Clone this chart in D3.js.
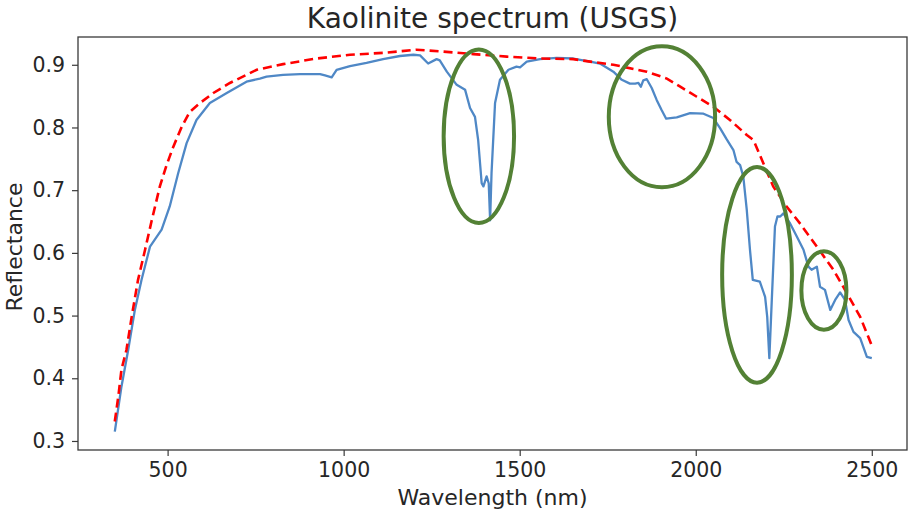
<!DOCTYPE html>
<html>
<head>
<meta charset="utf-8">
<script src="https://cdn.jsdelivr.net/npm/d3@7"></script>
<style>
  html, body { margin: 0; padding: 0; background: #fff; }
  svg { display: block; font-family: "DejaVu Sans", sans-serif; }
</style>
</head>
<body>
<svg id="chart" width="909" height="511"></svg>
<script>
// ---- data ----
const blueWavelength = [350,369,388,407,426,450,483,506,530,554,582,620,668,724,762,781,828,876,933,947,966,980,1018,1065,1112,1160,1198,1217,1240,1264,1273,1293,1321,1345,1359,1373,1382,1392,1397,1406,1412,1416,1420,1430,1444,1468,1491,1501,1520,1558,1605,1652,1700,1728,1766,1790,1813,1828,1837,1844,1851,1861,1875,1889,1903,1916,1946,1984,2022,2050,2069,2088,2107,2116,2126,2135,2145,2154,2162,2182,2197,2203,2209,2216,2225,2232,2240,2249,2268,2287,2306,2320,2329,2344,2353,2367,2382,2396,2410,2424,2434,2448,2467,2486,2500];
const blueReflectance = [0.315,0.387,0.445,0.509,0.557,0.610,0.637,0.674,0.727,0.775,0.812,0.839,0.855,0.873,0.878,0.881,0.884,0.885,0.885,0.883,0.880,0.892,0.898,0.903,0.909,0.914,0.916,0.915,0.902,0.909,0.907,0.889,0.868,0.860,0.831,0.817,0.780,0.711,0.706,0.722,0.711,0.652,0.727,0.839,0.876,0.892,0.897,0.896,0.905,0.909,0.911,0.910,0.905,0.902,0.889,0.876,0.870,0.870,0.871,0.865,0.875,0.877,0.863,0.844,0.828,0.814,0.816,0.823,0.822,0.815,0.799,0.781,0.764,0.745,0.740,0.722,0.668,0.605,0.557,0.554,0.530,0.498,0.432,0.525,0.642,0.658,0.658,0.663,0.647,0.626,0.605,0.578,0.573,0.578,0.546,0.541,0.509,0.525,0.537,0.525,0.493,0.474,0.464,0.434,0.432];

const hullWavelength = [350,360,369,383,398,416,436,455,478,497,516,540,563,592,630,677,724,753,828,923,1018,1112,1207,1283,1369,1463,1558,1652,1700,1766,1861,1918,1956,2003,2050,2097,2145,2164,2192,2220,2258,2296,2344,2391,2429,2467,2503];
const hullReflectance = [0.331,0.371,0.414,0.445,0.498,0.557,0.605,0.652,0.706,0.740,0.769,0.801,0.825,0.839,0.855,0.871,0.884,0.892,0.901,0.910,0.916,0.919,0.924,0.921,0.917,0.913,0.910,0.909,0.905,0.900,0.889,0.878,0.865,0.849,0.833,0.812,0.788,0.780,0.743,0.706,0.674,0.647,0.610,0.573,0.536,0.498,0.448];

// annotation ellipses: centre (nm, reflectance), half-width (nm), half-height (reflectance)
const ellipseCenterNm = [1384, 1904, 2174, 2364];
const ellipseCenterRefl = [0.786, 0.817, 0.565, 0.540];
const ellipseHalfWidthNm = [100, 151, 99, 64];
const ellipseHalfHeightRefl = [0.1384, 0.1124, 0.172, 0.0625];

const xTicks = [500, 1000, 1500, 2000, 2500];
const yTicks = [0.3, 0.4, 0.5, 0.6, 0.7, 0.8, 0.9];

const titleText = "Kaolinite spectrum (USGS)";
const xLabelText = "Wavelength (nm)";
const yLabelText = "Reflectance";

// ---- layout ----
const svg = d3.select("#chart");
const mLeft = 78, mRight = 907, mTop = 37, mBottom = 450;

const x = d3.scaleLinear().domain([245.5, 2600]).range([mLeft, mRight]);
const y = d3.scaleLinear().domain([0.2856, 0.9443]).range([mBottom, mTop]);

const textColor = "#262626";
const axisColor = "#3a3a3a";

// axes
const xAxis = svg.append("g")
  .attr("transform", `translate(0,${mBottom})`)
  .call(d3.axisBottom(x).tickValues(xTicks).tickFormat(d3.format("d")).tickSize(6).tickPadding(6));
const yAxis = svg.append("g")
  .attr("transform", `translate(${mLeft},0)`)
  .call(d3.axisLeft(y).tickValues(yTicks).tickFormat(d3.format(".1f")).tickSize(6).tickPadding(7));

[xAxis, yAxis].forEach(g => {
  g.select(".domain").remove();
  g.selectAll(".tick line").attr("stroke", axisColor).attr("stroke-width", 1.2);
  g.selectAll(".tick text").attr("fill", textColor).style("font-size", "20.5px").style("font-family", "DejaVu Sans, sans-serif");
});

// frame
svg.append("rect")
  .attr("x", mLeft).attr("y", mTop)
  .attr("width", mRight - mLeft).attr("height", mBottom - mTop)
  .attr("fill", "none").attr("stroke", axisColor).attr("stroke-width", 1.3);

// lines
const blueData = blueWavelength.map((w, i) => [w, blueReflectance[i]]);
const hullData = hullWavelength.map((w, i) => [w, hullReflectance[i]]);
const line = d3.line().x(d => x(d[0])).y(d => y(d[1])).curve(d3.curveLinear);

svg.append("path")
  .datum(blueData)
  .attr("d", line)
  .attr("fill", "none")
  .attr("stroke", "#4f88c6")
  .attr("stroke-width", 2.3)
  .attr("stroke-linejoin", "round");

svg.append("path")
  .datum(hullData)
  .attr("d", line)
  .attr("fill", "none")
  .attr("stroke", "#ff0000")
  .attr("stroke-width", 2.6)
  .attr("stroke-dasharray", "9,5");

// ellipses
const ellipses = ellipseCenterNm.map((c, i) => ({
  cx: c, cy: ellipseCenterRefl[i], rx: ellipseHalfWidthNm[i], ry: ellipseHalfHeightRefl[i]
}));
svg.selectAll("ellipse.ann")
  .data(ellipses)
  .join("ellipse")
  .attr("class", "ann")
  .attr("cx", d => x(d.cx))
  .attr("cy", d => y(d.cy))
  .attr("rx", d => x(d.cx + d.rx) - x(d.cx))
  .attr("ry", d => y(d.cy - d.ry) - y(d.cy))
  .attr("fill", "none")
  .attr("stroke", "#538135")
  .attr("stroke-width", 4);

// texts
svg.append("text")
  .attr("x", (mLeft + mRight) / 2).attr("y", 28)
  .attr("text-anchor", "middle")
  .attr("fill", textColor)
  .style("font-size", "28px")
  .text(titleText);

svg.append("text")
  .attr("x", (mLeft + mRight) / 2).attr("y", 505)
  .attr("text-anchor", "middle")
  .attr("fill", textColor)
  .style("font-size", "22px")
  .text(xLabelText);

svg.append("text")
  .attr("transform", `translate(21.5,247) rotate(-90)`)
  .attr("text-anchor", "middle")
  .attr("fill", textColor)
  .style("font-size", "22px")
  .text(yLabelText);
</script>
</body>
</html>
